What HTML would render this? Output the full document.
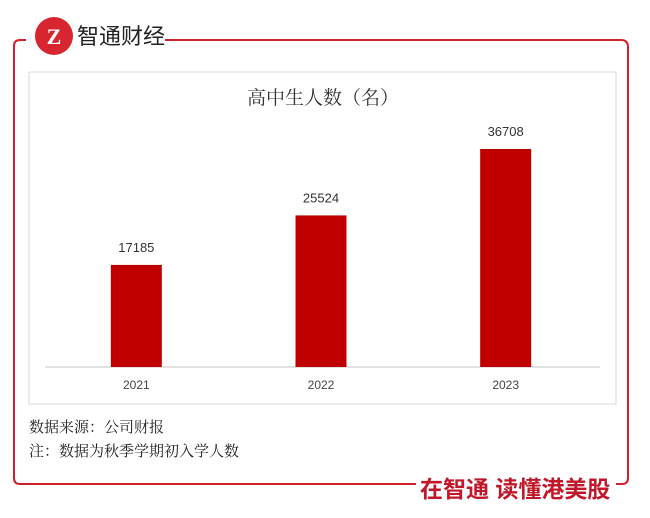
<!DOCTYPE html>
<html><head><meta charset="utf-8"><style>
body{margin:0;width:650px;height:513px;background:#fff;overflow:hidden;font-family:"Liberation Sans","Noto Sans CJK SC",sans-serif}
</style></head><body>
<svg width="650" height="513" viewBox="0 0 650 513">
<g fill="none" stroke="#d0202e" stroke-width="2">
<path d="M26 40 H20 Q14 40 14 46 V478 Q14 484 20 484 H416"/>
<path d="M165 40 H621 Q628 40 628 47 V478 Q628 484 622 484 H616"/>
</g>
<g>
<circle cx="54" cy="36" r="19" fill="#d7262f"/>
<text x="54" y="44" font-size="22" font-weight="bold" fill="#fff" text-anchor="middle" font-family="Liberation Serif,serif">Z</text>
<text x="77" y="44" font-size="22" fill="#222">智通财经</text>
</g>
<rect x="29" y="72" width="587" height="332" fill="#fff" stroke="#d9d9d9"/>
<text x="323" y="104" font-size="19" fill="#333" text-anchor="middle" font-family="Noto Serif CJK SC,serif">高中生人数（名）</text>
<line x1="45" y1="367" x2="600" y2="367" stroke="#d9d9d9" stroke-width="1.5"/>
<g id="bars"></g>
<text x="29" y="432" font-size="15" fill="#222" font-family="Noto Serif CJK SC,serif">数据来源：公司财报</text>
<text x="29" y="456" font-size="15" fill="#222" font-family="Noto Serif CJK SC,serif">注：数据为秋季学期初入学人数</text>
<text x="420" y="497" font-size="23" font-weight="bold" fill="#c0182a">在智通 读懂港美股</text>
</svg>
<script>
const categories=["2021","2022","2023"];
const values=[17185,25524,36708];
const g=document.getElementById('bars');
const ns='http://www.w3.org/2000/svg';
const x0=44,x1=598,base=367,scale=218/36708;
const band=(x1-x0)/categories.length;
categories.forEach((c,i)=>{
 const cx=x0+band*(i+0.5);
 const h=values[i]*scale;
 const r=document.createElementNS(ns,'rect');
 r.setAttribute('x',cx-25.5);r.setAttribute('y',base-h);r.setAttribute('width',51);r.setAttribute('height',h);r.setAttribute('fill','#c00000');
 
 
 g.appendChild(r);
 const t=document.createElementNS(ns,'text');
 t.setAttribute('x',cx);t.setAttribute('y',base-h-13);t.setAttribute('font-size','13');t.setAttribute('fill','#333');t.setAttribute('text-anchor','middle');
 t.textContent=values[i];
 
 
 g.appendChild(t);
 const l=document.createElementNS(ns,'text');
 l.setAttribute('x',cx);l.setAttribute('y',389);l.setAttribute('font-size','12');l.setAttribute('fill','#444');l.setAttribute('text-anchor','middle');
 l.textContent=c;
 
 
 g.appendChild(l);
});
</script>
</body></html>
